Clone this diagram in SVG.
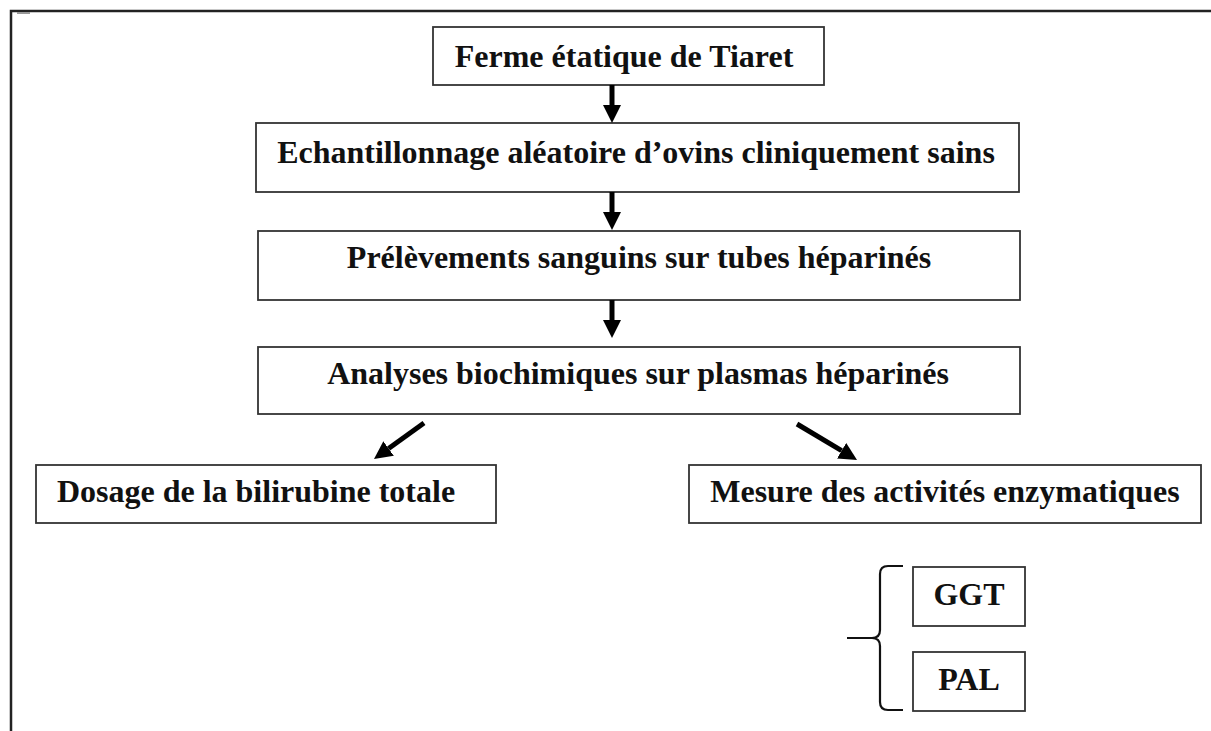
<svg xmlns="http://www.w3.org/2000/svg" width="1211" height="731" viewBox="0 0 1211 731">
<style>
.box{fill:#fff;stroke:#333;stroke-width:1.8}
.t{font-family:"Liberation Serif","Times New Roman",serif;font-weight:bold;font-size:32px;fill:#111;text-anchor:middle}
.arr{stroke:#000;stroke-width:5;fill:none}
.frame{stroke:#222;stroke-width:2.5;fill:none}
</style>
<defs>
<marker id="ah" markerUnits="userSpaceOnUse" markerWidth="18" markerHeight="18" refX="0" refY="9" orient="auto">
<path d="M0,0 L18,9 L0,18 z" fill="#000"/>
</marker>
</defs>
<rect width="1211" height="731" fill="#fff"/>
<path class="frame" d="M11,731 V11 H1211"/>
<rect x="17" y="12" width="13" height="2" fill="#999"/>
<g id="n1"><rect class="box" x="433" y="27" width="391" height="58"/><text class="t" x="624" y="67">Ferme étatique de Tiaret</text></g>
<g id="n2"><rect class="box" x="256" y="123" width="763" height="69"/><text class="t" x="636" y="163">Echantillonnage aléatoire d’ovins cliniquement sains</text></g>
<g id="n3"><rect class="box" x="258" y="231" width="762" height="69"/><text class="t" x="639" y="268">Prélèvements sanguins sur tubes héparinés</text></g>
<g id="n4"><rect class="box" x="258" y="347" width="762" height="67"/><text class="t" x="638" y="384">Analyses biochimiques sur plasmas héparinés</text></g>
<g id="n5"><rect class="box" x="36" y="465" width="460" height="58"/><text class="t" x="256" y="502">Dosage de la bilirubine totale</text></g>
<g id="n6"><rect class="box" x="689" y="465" width="512" height="58"/><text class="t" x="945" y="502">Mesure des activités enzymatiques</text></g>
<g id="n7"><rect class="box" x="913" y="567" width="112" height="59"/><text class="t" x="969" y="605">GGT</text></g>
<g id="n8"><rect class="box" x="913" y="652" width="112" height="59"/><text class="t" x="969" y="690">PAL</text></g>
<g id="connectors">
<line class="arr" x1="612" y1="85" x2="612" y2="105" marker-end="url(#ah)"/>
<line class="arr" x1="612" y1="192" x2="612" y2="212" marker-end="url(#ah)"/>
<line class="arr" x1="612" y1="300" x2="612" y2="320" marker-end="url(#ah)"/>
<line class="arr" x1="424" y1="423" x2="388.6" y2="448.5" marker-end="url(#ah)"/>
<line class="arr" x1="797" y1="424" x2="841.6" y2="450.7" marker-end="url(#ah)"/>
<path d="M847,638 H872 Q880,638 880,630 V574 Q880,566 888,566 H903 M872,638 Q880,638 880,646 V702 Q880,710 888,710 H903" fill="none" stroke="#111" stroke-width="2.2"/>
</g>
</svg>
